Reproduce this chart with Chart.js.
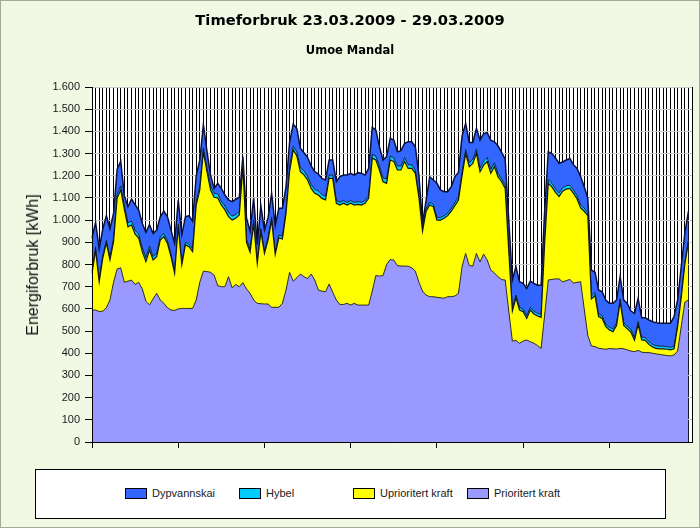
<!DOCTYPE html>
<html lang="no">
<head>
<meta charset="UTF-8">
<title>Timeforbruk 23.03.2009 - 29.03.2009</title>
<script src="https://cdn.jsdelivr.net/npm/chart.js"></script>
<style>
  body { margin: 0; }
  #wrap { position: relative; width: 700px; height: 528px; background: #f1f8e4; overflow: hidden; font-family: Arial, "Liberation Sans", sans-serif; }
  #frame { position: absolute; left: 0; top: 0; width: 698px; height: 526px; border: 1px solid #a3aa9c; pointer-events: none; }
  #title { position: absolute; left: 0; top: 10px; width: 700px; text-align: center; font: bold 14.7px "DejaVu Sans", sans-serif; line-height: 20px; color: #000; }
  #subtitle { position: absolute; left: 0; top: 43px; width: 700px; text-align: center; font: bold 11.5px "DejaVu Sans", sans-serif; line-height: 14px; color: #000; }
  #ytitle { position: absolute; left: 33px; top: 264.5px; transform: translate(-50%, -50%) rotate(-90deg); white-space: nowrap; font-size: 16px; line-height: 18px; color: #111; }
  #legend { position: absolute; left: 35px; top: 469px; width: 629px; height: 48px; border: 1px solid #000; background: #fff; }
  .sw { position: absolute; top: 488px; width: 20px; height: 9px; border: 1px solid #000; }
  .lt { position: absolute; top: 486px; font-size: 11px; line-height: 14px; color: #1a1a1a; white-space: nowrap; }
</style>
</head>
<body>
<div id="wrap">
  <canvas id="chart" width="700" height="528"></canvas>
  <div id="title">Timeforbruk 23.03.2009 - 29.03.2009</div>
  <div id="subtitle">Umoe Mandal</div>
  <div id="ytitle">Energiforbruk [kWh]</div>
  <div id="legend"></div>
  <div id="frame"></div>
</div>
<script>
// one point per hour, 23.03 00:00 .. 29.03 23:00 (last hour empty)
const days = ['23.03.2009', '24.03.2009', '25.03.2009', '26.03.2009', '27.03.2009', '28.03.2009', '29.03.2009'];
const hours = ['00', '01', '02', '03', '04', '05', '06', '07', '08', '09', '10', '11',
               '12', '13', '14', '15', '16', '17', '18', '19', '20', '21', '22', '23'];
const labels = days.flatMap(d => hours.map(h => d + ' ' + h + ':00'));

// kWh per hour, bottom of the stack first
const prioritert = [
  595, 595, 588, 590, 605, 640, 720, 780, 785, 720, 725, 730, 710, 720, 690, 635, 618, 645, 670, 640, 625, 605, 595, 593,
  600, 602, 602, 602, 602, 640, 720, 770, 768, 765, 752, 705, 700, 700, 745, 695, 710, 700, 718, 690, 670, 640, 625, 623,
  622, 622, 607, 607, 607, 625, 685, 765, 725, 740, 757, 745, 737, 757, 730, 685, 680, 677, 712, 675, 640, 620, 620, 625,
  617, 625, 617, 617, 617, 617, 680, 750, 748, 750, 800, 822, 820, 795, 793, 793, 792, 785, 770, 720, 680, 662, 655, 655,
  652, 650, 648, 655, 655, 658, 670, 790, 850, 795, 793, 850, 812, 847, 820, 775, 762, 745, 732, 730, 590, 455, 458, 445,
  455, 460, 452, 445, 435, 422, 575, 730, 733, 735, 735, 722, 727, 733, 716, 720, 722, 600, 480, 433, 430, 423, 420, 418,
  421, 420, 419, 422, 420, 415, 410, 407, 413, 405, 403, 403, 400, 397, 395, 392, 390, 388, 392, 410, 520, 630, 640, null
];
const uprioritert = [
  165, 270, 134, 239, 292, 180, 183, 320, 351, 330, 245, 248, 227, 199, 168, 178, 247, 175, 165, 270, 300, 290, 240, 167,
  370, 196, 286, 278, 256, 428, 416, 538, 450, 371, 351, 395, 368, 346, 271, 305, 298, 323, 523, 210, 185, 345, 180, 325,
  228, 288, 393, 238, 313, 290, 345, 455, 591, 550, 461, 459, 444, 386, 391, 428, 418, 414, 476, 513, 436, 448, 456, 443,
  459, 443, 454, 451, 459, 481, 599, 521, 478, 423, 366, 449, 444, 431, 433, 471, 441, 448, 441, 380, 270, 378, 413, 405,
  348, 350, 360, 365, 385, 407, 420, 410, 450, 446, 463, 451, 406, 401, 444, 436, 479, 451, 441, 413, 270, 135, 192, 150,
  132, 97, 143, 132, 133, 140, 325, 436, 417, 390, 371, 408, 413, 410, 405, 375, 333, 440, 540, 212, 230, 142, 137, 102,
  84, 77, 106, 210, 105, 95, 85, 52, 117, 55, 55, 37, 28, 25, 25, 28, 28, 27, 28, 110, 130, 170, 260, null
];
const hybel = [
  12, 12, 12, 12, 12, 13, 16, 18, 18, 18, 18, 18, 17, 18, 18, 18, 18, 16, 15, 15, 14, 13, 12, 12,
  12, 12, 12, 12, 13, 14, 17, 18, 18, 19, 18, 18, 17, 18, 18, 18, 17, 16, 15, 15, 14, 13, 13, 12,
  12, 12, 12, 12, 12, 14, 17, 18, 18, 18, 18, 18, 17, 18, 18, 18, 17, 16, 15, 15, 14, 13, 12, 12,
  12, 12, 12, 12, 12, 14, 17, 18, 18, 18, 19, 18, 17, 18, 18, 18, 17, 16, 15, 15, 14, 13, 12, 12,
  12, 12, 12, 12, 12, 14, 16, 18, 18, 18, 18, 18, 17, 18, 18, 18, 17, 15, 14, 14, 13, 13, 12, 12,
  12, 12, 12, 12, 12, 13, 15, 16, 16, 16, 16, 16, 15, 15, 15, 15, 14, 14, 13, 13, 13, 12, 12, 12,
  12, 12, 12, 12, 12, 12, 13, 13, 13, 13, 13, 13, 12, 12, 12, 12, 12, 12, 12, 12, 12, 12, 12, null
];
const dypvannskai = [
  148, 113, 136, 119, 111, 127, 111, 112, 111, 42, 72, 99, 116, 108, 109, 114, 97, 104, 105, 90, 101, 107, 108, 123,
  108, 125, 115, 128, 124, 118, 117, 104, 74, 48, 22, 48, 58, 49, 57, 65, 69, 64, 30, 95, 81, 102, 72, 105,
  93, 88, 109, 118, 121, 124, 103, 114, 99, 106, 88, 82, 85, 83, 79, 77, 73, 74, 68, 68, 83, 115, 115, 123,
  123, 123, 131, 131, 115, 121, 122, 117, 87, 80, 101, 80, 80, 64, 69, 64, 103, 104, 105, 85, 21, 37, 116, 109,
  154, 124, 108, 96, 99, 117, 109, 162, 118, 91, 76, 95, 125, 124, 112, 131, 95, 124, 118, 118, 127, 127, 128, 115,
  116, 123, 118, 126, 127, 132, 131, 126, 134, 139, 134, 116, 116, 120, 114, 123, 127, 96, 67, 117, 92, 108, 108, 108,
  108, 116, 103, 101, 103, 103, 82, 108, 104, 87, 89, 97, 102, 104, 103, 103, 105, 108, 133, 108, 128, 128, 128, null
];

const seriesNames = ['Prioritert kraft', 'Uprioritert kraft', 'Hybel', 'Dypvannskai'];
const seriesData = [prioritert, uprioritert, hybel, dypvannskai];
const fillColors = ['#9999ff', '#ffff00', '#00ccff', '#3366ff'];
const edgeColors = ['#2e2e1e', '#141414', '#0c2440', '#0a0f3a'];
const edgeWidths = [1, 1.2, 1, 1.5];

const yMax = 1600;
const yStep = 100;

const chartBg = {
  id: 'chartBg',
  beforeDraw(chart) {
    const { ctx, chartArea: a } = chart;
    ctx.save();
    ctx.fillStyle = '#ffffff';
    ctx.fillRect(a.left, a.top, a.right - a.left, a.bottom - a.top);
    ctx.restore();
  },
  afterDatasetsDraw(chart) {
    // frame lines on top of the filled areas
    const { ctx, chartArea: a } = chart;
    const l = Math.round(a.left) + 0.5, r = Math.round(a.right) + 0.5, b = Math.round(a.bottom) + 0.5;
    ctx.save();
    ctx.strokeStyle = '#000';
    ctx.lineWidth = 1;
    ctx.beginPath();
    ctx.moveTo(l, a.top); ctx.lineTo(l, b); ctx.lineTo(r, b); ctx.lineTo(r, a.top);
    ctx.stroke();
    ctx.restore();
  }
};

Chart.defaults.font.family = 'Arial, "Liberation Sans", sans-serif';
Chart.defaults.font.size = 11;

const chart = new Chart(document.getElementById('chart'), {
  type: 'line',
  data: {
    labels: labels,
    datasets: seriesData.map((d, k) => ({
      label: seriesNames[k],
      data: d,
      backgroundColor: fillColors[k],
      borderColor: edgeColors[k],
      borderWidth: edgeWidths[k],
      fill: k === 0 ? 'origin' : '-1',
      pointRadius: 0,
      tension: 0
    }))
  },
  options: {
    responsive: false,
    maintainAspectRatio: false,
    devicePixelRatio: 1,
    animation: false,
    layout: { padding: { top: 87, right: 8, bottom: 0, left: 0 } },
    plugins: {
      legend: { display: false },
      tooltip: { enabled: false },
      title: { display: false }
    },
    scales: {
      x: {
        type: 'category',
        offset: false,
        grid: {
          color: '#000',
          lineWidth: 1,
          tickLength: 6,
          tickColor: ctx => (ctx.index % 24 === 0 ? '#000' : 'rgba(0,0,0,0)')
        },
        border: { color: '#000' },
        ticks: { display: false, autoSkip: false },
        afterFit: s => { s.height = 86; }
      },
      y: {
        stacked: true,
        min: 0,
        max: yMax,
        grid: { color: '#c9c9c9', tickColor: '#000', tickLength: 7 },
        border: { color: '#000' },
        ticks: {
          stepSize: yStep,
          padding: 5,
          color: '#1a1a1a',
          callback: v => v.toLocaleString('de-DE')
        },
        afterFit: s => { s.width = 92; }
      }
    }
  },
  plugins: [chartBg]
});

// legend box, same order as the original (top of the stack first)
const wrap = document.getElementById('wrap');
[3, 2, 1, 0].forEach((k, pos) => {
  const x = 125 + pos * 114;
  const sw = document.createElement('div');
  sw.className = 'sw';
  sw.style.left = x + 'px';
  sw.style.background = fillColors[k];
  const tx = document.createElement('div');
  tx.className = 'lt';
  tx.style.left = (x + 27) + 'px';
  tx.textContent = seriesNames[k];
  wrap.appendChild(sw);
  wrap.appendChild(tx);
});
</script>
</body>
</html>
